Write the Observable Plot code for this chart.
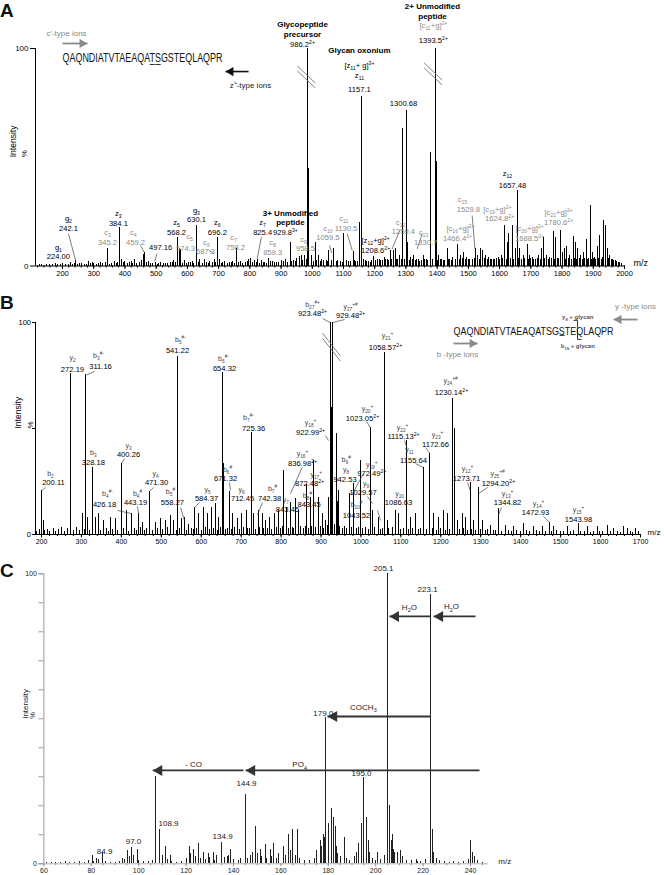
<!DOCTYPE html>
<html><head><meta charset="utf-8">
<script src="https://cdn.jsdelivr.net/npm/d3@7"></script>
<script src="https://cdn.jsdelivr.net/npm/@observablehq/plot@0.6"></script>
<style>
body{margin:0;background:#fff;}
#wrap{position:relative;width:664px;height:875px;overflow:hidden;background:#fff;}
.panel{position:absolute;left:0;}
.panel svg{display:block;}
.letter{position:absolute;font:bold 19px "Liberation Sans",Arial,sans-serif;line-height:1;color:#111;}
</style></head>
<body>
<div id="wrap">
  <div id="pa" class="panel" style="top:0"></div>
  <div id="pb" class="panel" style="top:280px"></div>
  <div id="pc" class="panel" style="top:530px"></div>
  <div class="letter" style="left:0;top:1px">A</div>
  <div class="letter" style="left:0;top:293px">B</div>
  <div class="letter" style="left:0;top:561px">C</div>
</div>
<script>
const FONT = '"Liberation Sans", Arial, "DejaVu Sans", sans-serif';

// ---------------- Panel A data ----------------
const aTicks = [200,300,400,500,600,700,800,900,1000,1100,1200,1300,1400,1500,1600,1700,1800,1900,2000];
const aPeaks = [[224.0,1.5],[242.1,2.5],[262,1],[284,2],[300,1],[322,1.5],[345.2,8],[365,2],[384.1,17.5],[390,3],[400,2],[420,2],[430,3],[445,1.5],[452,2.5],[459.2,5.5],[464,6],[475,2],[497.16,1.5],[515,1.5],[530,1],[545,1.5],[556,2.5],[568.2,13],[574.3,8],[579,7.5],[590,2.5],[602,1.5],[615,2],[630.1,18.6],[640,3],[655,3],[672,2],[687.3,3],[696.2,13],[702,3],[720,2],[735,1.5],[745,2],[758.2,8],[770,2],[785,1.5],[797,3],[802,3.5],[815,2.5],[825.4,3],[838,2.5],[848,1.5],[859.3,3.5],[872,2],[885,1.5],[900,2.5],[914,3],[929.8,11],[940,2.5],[950,3.5],[958.5,4.5],[965,5],[975,5],[986.2,100],[988,45],[998,5],[1010,11],[1020,5],[1030,3],[1045,2.5],[1053,7],[1069,8],[1082,2.5],[1101,14.8],[1115,2],[1130.5,6.5],[1140,2],[1150,20],[1157.1,78],[1165,3],[1175,2],[1185,1.5],[1197,4.5],[1208.6,3],[1220,2.5],[1230,4],[1240,3],[1250,7],[1259.4,7],[1266,8],[1273,3],[1280,5],[1288,63],[1300.68,71.5],[1305,11],[1315,4],[1325,5],[1335,3],[1345,2],[1355,5],[1365,3],[1379,52],[1393.5,100],[1397,48],[1405,5],[1415,3],[1425,2.5],[1432,8],[1440,3],[1450,4],[1466.4,10],[1475,5],[1485,6],[1495,4],[1505,3],[1523,8],[1529.8,5],[1539,8],[1545,7],[1555,5],[1565,4],[1575,3],[1585,3],[1595,4],[1605,5],[1617,18.5],[1624.8,11],[1630,14.8],[1642,18.5],[1650,8],[1657.48,34.6],[1665,8],[1675,5],[1688.5,10],[1695,5],[1705,4],[1715,3],[1725,5],[1733,8],[1740,13],[1750,5],[1760,4],[1772,16],[1780.6,13],[1794,16.5],[1800,6],[1808,8],[1815,9],[1825,5],[1836,13.5],[1843,11],[1850,8],[1860,5],[1870,6],[1877,12],[1891,28],[1898,6],[1905,4],[1912,9],[1920,14],[1934,21],[1940,18.5],[1946,8],[1953,5],[1962,3],[1970,2.5],[1985,1.5]];
const aNoise = [[125,.5],[133,.8],[141,.4],[150,.9],[158,.6],[167,.5],[176,1],[185,.7],[193,.5],[201,1.2],[210,.6],[218,.9],[231,.8],[237,1.1],[249,.7],[255,1.3],[270,.9],[277,.6],[291,1],[296,1.4],[309,.8],[315,1.2],[329,1],[337,1.6],[352,.9],[358,1.3],[372,1],[377,1.5],[395,1.8],[407,1.2],[413,1.6],[425,1.3],[437,1.1],[469,1.4],[481,1],[489,1.2],[503,.9],[509,1.3],[522,1],[537,1.2],[551,1.6],[562,1.4],[585,1.3],[596,1],[609,1.5],[621,1.2],[636,1.4],[647,1.1],[661,1.6],[667,1.2],[679,1.4],[691,1.8],[708,1.3],[714,1.6],[727,1.2],[740,1.5],[751,1.1],[764,1.7],[776,1.3],[791,1.9],[808,1.4],[821,1.6],[832,1.2],[844,1.8],[853,1.3],[866,1.9],[878,1.4],[892,1.7],[907,2],[920,1.6],[935,2.2],[945,1.9],[970,2.4],[981,2.8],[1003,2.2],[1015,2.6],[1025,2],[1037,2.3],[1050,1.9],[1060,2.5],[1076,2],[1090,2.2],[1096,1.8],[1108,2.4],[1122,2.1],[1135,2.6],[1145,2],[1170,2.5],[1180,2.2],[1190,2.7],[1203,2.3],[1214,2.8],[1225,2.5],[1235,3],[1245,2.6],[1255,3.1],[1270,2.8],[1285,3],[1295,3.2],[1310,2.7],[1320,3],[1330,2.5],[1340,2.8],[1350,2.4],[1360,2.9],[1370,2.6],[1385,3],[1402,2.7],[1410,3.1],[1420,2.6],[1436,3],[1445,2.7],[1458,3.2],[1470,2.8],[1480,3.3],[1490,2.9],[1500,3.1],[1512,2.8],[1518,3.4],[1534,3],[1550,3.3],[1560,2.9],[1570,3.2],[1580,2.8],[1590,3.4],[1600,3],[1610,3.5],[1622,3.2],[1636,3.6],[1646,3.1],[1660,3.4],[1670,3],[1680,3.6],[1692,3.2],[1700,3.5],[1710,3],[1720,3.4],[1730,3.1],[1745,3.6],[1755,3.2],[1765,3.5],[1776,3.1],[1786,3.6],[1790,3.3],[1803,3.7],[1812,3.2],[1820,3.5],[1830,3],[1840,3.6],[1847,3.2],[1855,3.4],[1865,3],[1873,3.5],[1882,3.2],[1886,3.6],[1895,3.1],[1902,3.4],[1908,3],[1916,3.5],[1925,3.2],[1930,3.8],[1938,3.3],[1950,3.6],[1958,3],[1966,2.6],[1975,2.2],[1980,1.8],[1990,1.2]];
const aLabelsBold = [["Glycopeptide",968.7,111],["precursor",968.7,106.4],["Glycan oxonium",1151,99],["2+ Unmodified",1385,119.3],["peptide",1385,114.7],["3+ Unmodified",930,24.1],["peptide",930,20]];
const aLabelsBlack = [["986.2^{2+}",968.7,101.8],["[z_{11}+ g]^{3+}",1151,92.2],["z_{11}",1151,87.6],["1157.1",1151,81.1],["1393.5^{2+}",1388,103.7],["1300.68",1292,74.7],["z_{12}",1625,42.5],["1657.48",1641,37],["[z_{12}+g]^{2+}",1203,11.7],["1208.6^{2+}",1203,7.1],["g_{2}",219,21.8],["242.1",219,17.2],["g_{1}",187,8.5],["224.00",187,4.4],["z_{3}",379,24.1],["384.1",379,19.5],["497.16",514,8.5],["z_{5}",565,20],["568.2",565,15.4],["g_{3}",629,25.5],["630.1",629,21.4],["z_{6}",696,20],["696.2",696,15.4],["z_{7}",841,20],["825.4",841,15.4],["929.8^{3+}",914,15.4]];
const aLabelsGrey = [["[c_{11}+g]^{2+}",1388,110.6],["c_{15}",1481,30.6],["1529.8",1500,26],["[c_{19}+g]^{2+}",1593,26],["1624.8^{2+}",1600,21.8],["[c_{22}+g]^{2+}",1789,24.6],["1780.6^{2+}",1789,20],["[c_{20}+g]^{2+}",1696,17.2],["1688.5^{2+}",1696,12.6],["[c_{16}+g]^{2+}",1475,17.2],["1466.4^{2+}",1465,12.6],["c_{11}",1101,21.8],["1130.5",1108,17.2],["c_{12}",1283,20],["1259.4",1292,15.9],["c_{13}",1356,15.4],["1330.7",1363,10.8],["c_{10}",1050,17.2],["1059.5",1050,13.1],["c_{3}",344,15.4],["345.2",344,10.8],["c_{4}",427,15.4],["459.2",434,10.8],["c_{5}",607,13.6],["574.3",594,8],["c_{6}",661,10.8],["687.3",658,6.7],["c_{7}",748,13.1],["758.2",754,8.5],["c_{8}",873,10.8],["859.3",873,6.2],["c_{9}",972,12.2],["958.5",978,8]];
const aLeaders = [[219,14.9,242.1,2.5],[450,9.4,462,6.3],[503,5.7,495,2.1],[669,7.4,685,5.5],[837,13.2,823.5,3.3],[1055,9.4,1062,6],[1112,14.8,1128,7.1],[1280,16.3,1256,7.9],[1352,14.8,1336,7.9],[1512,23.2,1521,7.9]];
const aBreaks = [[981,86.9],[1387,88.3]];
const aSeq = [["QAQNDIATVTAEAQAT\u0332S\u0332GSTEQLAQPR",200,95.4]];
const aIonTypeGrey = [["c'-type ions",212.8,106.9]];
const aIonTypeBlack = [["z^{'•}-type ions",802,83]];
const aArrowGrey = [[200,280,102.3]];   // [from, tip, intensity]
const aArrowBlack = [[796,722,89.4]];

// ---------------- Panel B data ----------------
const bTicks = [200,300,400,500,600,700,800,900,1000,1100,1200,1300,1400,1500,1600,1700];
const bPeaks = [[200.11,20.8],[204,6.6],[272.19,75.8],[302,9.7],[311.16,75.5],[314,8.2],[328.18,31.8],[335,8.2],[342,9.7],[356,6.6],[373,8.2],[385,7.4],[400.26,33.6],[413,11.3],[426.18,9.7],[443.19,9.7],[452,5.8],[471.3,20.4],[485.5,5.8],[498,7.4],[510.5,6.6],[523,9],[531,6.6],[541.22,84],[550.6,7.4],[558.27,8.2],[569,4.9],[584.37,12.9],[594,9.7],[606.5,12.9],[615,9.7],[625,12.9],[635.8,14.5],[644,8.2],[654.32,76.6],[656.5,33.6],[671.32,20.4],[679,9.7],[690,7.4],[700,9.7],[712.45,11.3],[725.36,48.3],[731.7,9.7],[742.38,11.3],[752.7,9.7],[761,6.6],[771.8,8.2],[783.5,9.7],[794.3,11.3],[806.8,30.2],[813.6,12.9],[823.6,15],[836.98,17],[844.4,11.3],[863.6,23.6],[872.48,17.6],[882,34.9],[894.5,17.6],[903,9.7],[911,6.6],[919.5,17.6],[922.99,44.3],[923.48,100],[926,60],[929.48,100],[938.8,47.5],[940.5,15.7],[942.53,20.8],[972.49,19.2],[982,23.9],[999,34.9],[1023.05,50.5],[1029.57,11.3],[1043.52,8.2],[1058.57,86],[1065.7,6.6],[1086.63,11.3],[1094.8,9.7],[1115.13,44.3],[1124,8.2],[1136.6,9.7],[1155.64,31.8],[1172.66,38],[1182.5,9.7],[1195,8.2],[1207.5,11.3],[1216,9.7],[1230.14,64],[1233,50],[1242.6,6.6],[1253.6,9.7],[1261.8,8.2],[1273.71,24.7],[1282.7,6.6],[1294.2,22.3],[1303.7,6.6],[1324.4,4.4],[1344.82,12.1],[1362,4.4],[1383,3.6],[1408,5.2],[1433,3.6],[1454,3.6],[1472.93,5.8],[1483,3.6],[1516.6,3.6],[1543.98,5.2],[1566.6,3.6],[1591.7,3.6],[1616.7,4.4],[1633,2.8],[1658,3.6],[1667,2.8],[1687.6,2.8]];
const bNoise = [[188,1.5],[195,2.2],[208,1.8],[214,2.5],[221,1.2],[229,2.8],[236,1.6],[243,2.2],[250,3.2],[257,1.4],[264,2.6],[280,2],[287,3.4],[294,1.8],[307,2.4],[320,1.7],[327,2.9],[348,2.1],[362,3],[368,1.6],[379,2.5],[391,1.9],[406,2.7],[419,1.5],[432,2.8],[438,1.7],[447,3.1],[458,2],[464,2.6],[477,1.8],[491,2.9],[504,2.2],[516,3.3],[537,2],[545,2.7],[562,1.9],[575,3],[580,2.3],[589,2.8],[600,2],[611,3.2],[620,2.4],[630,2.9],[640,2.1],[649,3.4],[661,2.5],[666,3],[675,2.2],[684,3.1],[695,2.4],[705,3.3],[717,2.6],[721,3],[735,2.3],[747,3.5],[757,2.6],[766,3],[777,2.4],[788,3.4],[799,2.7],[803,3.8],[818,2.9],[828,3.5],[832,2.6],[849,3.9],[856,3],[860,3.6],[868,2.8],[877,4],[887,3.2],[898,3.8],[907,3],[915,4.2],[933,4.5],[946,3.6],[953,3],[958,4],[965,2.8],[977,3.5],[988,2.6],[994,3.2],[1005,2.7],[1012,3.4],[1018,2.5],[1035,3.1],[1049,2.4],[1053,3],[1070,2.6],[1078,3.2],[1100,2.5],[1107,3],[1120,2.4],[1130,2.9],[1143,2.2],[1150,2.8],[1163,2.3],[1178,2.7],[1188,2.1],[1200,2.6],[1211,2],[1222,2.5],[1248,2.2],[1257,2.7],[1267,2],[1278,2.4],[1288,1.9],[1300,2.3],[1312,1.8],[1318,2.2],[1332,1.7],[1338,2.1],[1352,1.6],[1370,2],[1377,1.5],[1390,1.9],[1400,1.4],[1415,1.8],[1423,1.3],[1440,1.7],[1448,1.2],[1461,1.6],[1478,1.3],[1490,1.7],[1500,1.2],[1508,1.6],[1524,1.3],[1533,1.7],[1551,1.2],[1559,1.6],[1574,1.1],[1583,1.5],[1598,1.2],[1606,1.6],[1625,1.3],[1642,1.5],[1650,1.1],[1675,1.4],[1680,1],[1694,1.2]];
const bIonLabels = [["y_{2}",277.6,83.5],["b_{3}^{#-}",342.7,84.4],["b_{2}",222.5,28.8],["b_{3}",330,38.7],["y_{3}",417.9,42],["y_{4}",485.5,28.8],["b_{4}^{#-}",365.3,19.3],["b_{4}^{#}",440.4,19.3],["b_{5}^{#}",523,20.3],["b_{5}^{#-}",548,92],["y_{5}",615.7,21.2],["b_{6}^{#-}",655.8,83],["b_{6}^{#}",665.8,30.7],["y_{6}",700.9,21.2],["b_{7}^{#-}",718.4,55.2],["b_{7}^{#}",778.5,21.7],["y_{7}",812,16.5],["b_{8}^{#}",866,18.2],["y_{16}^{+}",853.6,38.2],["y_{17}^{+}",888,28.3],["y_{18}^{+}",873.7,52.8],["b_{27}^{#+}",878.7,108.5],["y_{27}^{+#}",973.9,107.5],["y_{21}^{+}",1066.5,93.9],["y_{24}^{+#}",1224.3,72.6],["y_{20}^{+}",1016.4,59.4],["y_{22}^{+}",1104.1,50.5],["y_{23}^{+}",1191.7,47.2],["y_{11}",1121.6,40],["b_{9}^{#}",963,35.3],["y_{8}",963,30.4],["y_{19}^{+}",1027,32.8],["y_{9}",1013,24],["b_{10}^{#}",989,14],["y_{10}",1096.6,19.3],["y_{12}^{+}",1266.9,31.1],["y_{25}^{+#}",1342,28.8],["y_{13}^{+}",1367,19.3],["y_{14}^{+}",1444.7,14.6],["y_{15}^{+}",1544.9,11.8]];
const bValueLabels = [["272.19",277.6,77.8],["311.16",347.8,79.2],["200.11",230,24.5],["328.18",330,34],["400.26",417.9,37.7],["471.30",488,24.5],["426.18",357.8,14.2],["443.19",435.4,15.1],["558.27",528,15.1],["541.22",540.6,86.8],["584.37",613.2,17],["654.32",658.3,78.3],["671.32",660.8,26.4],["712.45",703.4,17],["725.36",731,50],["742.38",771,17],["843.45",816,11.8],["843.45",870,14.2],["836.98^{2+}",853.6,33.5],["872.48^{2+}",871.2,23.8],["922.99^{2+}",873.7,48.1],["923.48^{2+}",878.7,104.2],["929.48^{2+}",973.9,103.3],["1058.57^{2+}",1061.5,88.2],["1230.14^{2+}",1226.8,67],["1023.05^{2+}",1003.9,54.7],["1115.13^{2+}",1106.6,46.2],["1172.66",1186.7,42.5],["1155.64",1131.6,35],["942.53",960,25.8],["972.49^{2+}",1027,28.8],["1029.57",1005,19.8],["1043.52",989,9],["1086.63",1094.1,15.1],["1273.71",1264.4,26.4],["1294.20^{2+}",1344.5,24],["1344.82",1367,15.1],["1472.93",1437.2,10.4],["1543.98",1544.9,7.1]];
const bLeaders = [[210,22.2,201.3,20.8],[332.7,76.9,312.7,75.2],[407.9,35.8,400.4,33.5],[390.3,11.3,425.4,9.9],[440.4,13.2,442.9,9.9],[480.5,22.2,470.5,20.3],[548,12.7,558,6.6],[595.7,15.1,583.2,12.7],[670.8,24.5,673.3,20.8],[753.5,15.1,741,9.4],[852.9,31.7,823.6,19.3],[911,46.7,918.8,44.3],[903.7,101.9,922.5,100],[958.8,101.4,930,100],[1014,53.3,1023,50.5],[1109,44.3,1115,41],[1161.7,41,1172.5,38.2],[1136.6,33.5,1155.6,31.6],[1006.4,28.8,978.9,19.3],[1016.4,17.9,1029,14.6],[1041.5,11.3,1049,6.6],[1266.8,24.5,1273.6,20.8],[1317,22.2,1294.4,19.3],[1352,12.7,1344.5,9.4],[1457,8.5,1472.3,5.7]];
const bBreaks = [[926,88.4]];
const bSeq = [["QAQNDIATVTAEAQATSGS\u0332TEQLAQPR",1231.8,95.8]];
const bGlycan = [["y_{8} + glycan",1543,102.6],["b_{19} + glycan",1543,89]];
const bCleavage = [[1542.3,101,92]];   // [m/z of cleavage, top, bottom]
const bIonType = [["y -type ions",1687.6,107.5],["b -type ions",1241.8,84.9]];
const bArrowLeft = [[1692.6,1632.5,101.4]];
const bArrowRight = [[1231.8,1291.9,90.1]];

// ---------------- Panel C data ----------------
const cTicks = [60,80,100,120,140,160,180,200,220,240];
const cPeaks = [[84.9,4],[97.0,5.5],[106.9,30],[108.9,12],[134.9,7.3],[144.9,24],[179.0,50.3],[195.0,29.7],[205.1,100],[223.1,93],[80.5,3],[82.2,2],[93.3,2],[95.4,4.5],[99.5,5],[111.2,6],[113.3,3],[121.4,6],[123.3,5],[125.4,7],[127.2,4],[129.3,3.5],[131.4,4],[137.3,2.5],[138.7,5],[149.4,13],[151.2,5],[153.3,6.5],[155.4,5],[157,7],[161.2,6],[163,10],[165,12],[167.1,12],[176.5,8],[178,10],[180.1,14],[181.2,19],[182.2,16],[182.9,13],[186.9,9],[192.8,7],[193.8,14],[195.9,16],[196.9,8],[200.7,4],[205.9,20],[207,10],[208.1,4],[209.3,4],[210.5,4.5],[217,1.5],[223.8,12],[224.5,4],[240,8],[240.7,4]];
const cNoise = [[61,.4],[63,.6],[65,.3],[67,.5],[69,.7],[71,.4],[73,.6],[75,.8],[77,.5],[79,1.2],[81,.9],[83,1.4],[86,.8],[88,.5],[90,.6],[92,.9],[94,1.5],[96,2.5],[98,3],[100,1],[102,.7],[104,.9],[106,1.3],[110,3],[112,1.5],[114,.8],[116,.6],[118,.9],[120,2],[122,3.5],[124,2.5],[126,2],[128,1.5],[130,2.2],[132,1.2],[133,2.8],[136,2.2],[138,3],[140,1.5],[142,1.2],[143,2],[146,1.8],[147,3],[148,4],[150,3.5],[152,2.5],[154,2],[156,2.5],[158,1.8],[159,3.5],[162,3],[164,4.5],[166,3],[168,2],[170,1.2],[172,1],[174,1.8],[175,4.5],[177,6],[178.5,9],[183.5,6],[184,3.5],[185,2.5],[187.5,2],[189,1.2],[191,2.5],[192,4],[197.5,4],[198.5,2],[200,1.2],[202,1.5],[203.5,3],[206.5,8],[207.5,5],[211.5,2.5],[213,1.2],[215,1],[217.5,.8],[219,.9],[221,1.5],[225.5,2],[227,1],[229,.8],[231,.6],[233,.9],[235,.5],[237,.7],[239,1.5],[241.5,2.5],[243,1.2],[245,.6]];
const cLabels = [["205.1",203.3,101.8],["223.1",221.9,94.6],["H_{2}O",214.2,88.4],["H_{2}O",232,88.7],["COCH_{3}",194.8,53.9],["179.0",177.9,51.8],["- CO",123.1,34.2],["PO_{4}",167.9,34.2],["144.9",145.5,27.7],["108.9",112.6,13.9],["134.9",135.4,9.4],["97.0",97.8,7.7],["84.9",85.6,4.2],["195.0",194,31.1]];
const cArrows = [[242.1,224.4,85.3],[223.1,205.8,85.3],[223.1,179.7,50.8],[243.8,145.1,32.2],[144.2,105.9,32.2]];

// ---------------- helpers ----------------
const X = d => d[0], Y = d => d[1];
function peakRules(data, opts = {}) {
  return Plot.ruleX(data, {x: X, y1: 0, y2: Y, stroke: "#000", strokeWidth: 1, shapeRendering: "crispEdges", ...opts});
}
function labels(data, opts) {
  return Plot.text(data, {x: d => d[1], y: d => d[2], text: d => d[0], ...opts});
}
function arrows(arr, dir, color, r, width) {
  const off = 1.555 * r;
  return [
    Plot.link(arr, {x1: d => d[0], x2: d => d[1], y1: d => d[2], y2: d => d[2], stroke: color, strokeWidth: width}),
    Plot.dot(arr, {x: d => d[1], y: d => d[2], symbol: "triangle", r, fill: color, stroke: "none",
      rotate: dir > 0 ? 90 : -90, dx: dir > 0 ? -off : off})
  ];
}
function breaks(arr, dm, di, sep) {
  const segs = arr.flatMap(([m, i]) => [-sep, sep].map(o => ({x1: m - dm, y1: i + di + o, x2: m + dm, y2: i - di + o})));
  return Plot.link(segs, {x1: "x1", y1: "y1", x2: "x2", y2: "y2", stroke: "#666", strokeWidth: 0.8});
}
function leaders(arr, color) {
  return Plot.link(arr, {x1: d => d[0], y1: d => d[1], x2: d => d[2], y2: d => d[3], stroke: color, strokeWidth: 0.7});
}
const style = {background: "transparent", overflow: "visible", fontFamily: FONT, fontSize: "8px", color: "#000"};
const fmt = d => String(d);

// ---------------- Panel A ----------------
const plotA = Plot.plot({
  width: 664, height: 290, marginLeft: 35, marginRight: 40, marginTop: 48, marginBottom: 24.5,
  x: {domain: [113.5, 2000], range: [35, 624], label: null},
  y: {domain: [0, 100], range: [265.5, 48], label: null},
  style,
  marks: [
    peakRules(aNoise),
    peakRules(aPeaks),
    Plot.ruleY([0], {stroke: "#000"}),
    Plot.ruleX([113.5], {y1: 0, y2: 100, stroke: "#000"}),
    Plot.axisX(d3.range(120, 2001, 20), {tickSize: 2, tickFormat: () => ""}),
    Plot.axisX(aTicks, {tickSize: 3.5, tickPadding: 1, fontSize: 7.5, tickFormat: fmt}),
    Plot.axisY([0, 100], {tickSize: 5, tickPadding: 2, fontSize: 8, tickFormat: fmt}),
    Plot.text(["Intensity"], {frameAnchor: "left", dx: -22, rotate: -90, fontSize: 8.5}),
    Plot.text(["%"], {frameAnchor: "left", dx: -11, rotate: -90, fontSize: 8}),
    Plot.text(["m/z"], {frameAnchor: "bottom-right", dx: 9, textAnchor: "start", fontSize: 9}),
    breaks(aBreaks, 28.8, 3.9, 1.15),
    leaders(aLeaders, "#444"),
    labels(aLabelsBold, {fontSize: 8, fontWeight: "bold", fill: "#000"}),
    labels(aLabelsBlack, {fontSize: 7.6, fill: "#000"}),
    labels(aLabelsGrey, {fontSize: 7.6, fill: "#8a8a8a"}),
    labels(aSeq, {fontSize: 12, textAnchor: "start", fill: "#111"}),
    labels(aIonTypeGrey, {fontSize: 8, fill: "#8a8a8a"}),
    labels(aIonTypeBlack, {fontSize: 8, fill: "#222"}),
    ...arrows(aArrowGrey, 1, "#8a8a8a", 3.4, 1.8),
    ...arrows(aArrowBlack, -1, "#111", 3.4, 1.6)
  ]
});

// ---------------- Panel B ----------------
const plotB = Plot.plot({
  width: 664, height: 275, marginLeft: 35, marginRight: 24, marginTop: 42, marginBottom: 21,
  x: {domain: [185, 1700], range: [35, 640], label: null},
  y: {domain: [0, 100], range: [254, 42], label: null},
  style,
  marks: [
    peakRules(bNoise),
    peakRules(bPeaks),
    Plot.ruleY([0], {stroke: "#000"}),
    Plot.ruleX([185], {y1: 0, y2: 100, stroke: "#000"}),
    Plot.axisX(d3.range(200, 1701, 20), {tickSize: 2, tickFormat: () => ""}),
    Plot.axisX(bTicks, {tickSize: 3.5, tickPadding: 1, fontSize: 7, tickFormat: fmt}),
    Plot.axisY([0, 50, 100], {tickSize: 3, tickPadding: 1.5, fontSize: 7.5, tickFormat: d => d === 50 ? "" : String(d)}),
    Plot.text(["Intensity"], {frameAnchor: "left", dx: -17, rotate: -90, fontSize: 8.5}),
    Plot.text(["%"], {frameAnchor: "left", dx: -5, rotate: -90, fontSize: 8}),
    Plot.text(["m/z"], {frameAnchor: "bottom-right", dx: 7, textAnchor: "start", fontSize: 8}),
    breaks(bBreaks, 22.5, 5.4, 1.2),
    leaders(bLeaders, "#444"),
    labels(bIonLabels, {fontSize: 7, fill: "#444"}),
    labels(bValueLabels, {fontSize: 7.6, fill: "#000"}),
    labels(bSeq, {fontSize: 11.5, textAnchor: "start", fill: "#111"}),
    labels(bGlycan, {fontSize: 6, fontWeight: "bold", fill: "#555"}),
    Plot.link(bCleavage, {x1: d => d[0], x2: d => d[0], y1: d => d[1], y2: d => d[2], stroke: "#222", strokeWidth: 0.9}),
    Plot.link(bCleavage, {x1: d => d[0] - 10, x2: d => d[0], y1: d => d[1], y2: d => d[1], stroke: "#222", strokeWidth: 0.9}),
    Plot.link(bCleavage, {x1: d => d[0], x2: d => d[0] + 10, y1: d => d[2], y2: d => d[2], stroke: "#222", strokeWidth: 0.9}),
    labels(bIonType, {fontSize: 8, fill: "#8a8a8a"}),
    ...arrows(bArrowLeft, -1, "#8a8a8a", 3.4, 1.8),
    ...arrows(bArrowRight, 1, "#8a8a8a", 3.4, 1.8)
  ]
});

// ---------------- Panel C ----------------
const plotC = Plot.plot({
  width: 664, height: 345, marginLeft: 43.4, marginRight: 176.2, marginTop: 43.3, marginBottom: 11.7,
  x: {domain: [60, 247.5], range: [43.4, 487.8], label: null},
  y: {domain: [0, 100], range: [333.3, 43.3], label: null},
  style,
  marks: [
    Plot.ruleY([0], {stroke: "#999", strokeWidth: 0.8}),
    peakRules(cNoise, {stroke: "#222"}),
    peakRules(cPeaks, {stroke: "#222"}),
    Plot.ruleX([60], {y1: 0, y2: 100, stroke: "#999"}),
    Plot.axisX(d3.range(60, 247, 5), {tickSize: 2, stroke: "#999", tickFormat: () => ""}),
    Plot.axisX(cTicks, {tickSize: 3, tickPadding: 1, fontSize: 7, stroke: "#999", fill: "#222", tickFormat: fmt}),
    Plot.axisY(d3.range(0, 101, 10), {tickSize: 5, stroke: "#999", tickFormat: () => ""}),
    Plot.axisY([0, 100], {tickSize: 5, tickPadding: 2, fontSize: 7, stroke: "#999", fill: "#222", tickFormat: fmt}),
    Plot.text(["Intensity"], {frameAnchor: "left", dx: -18, rotate: -90, fontSize: 8, fill: "#222"}),
    Plot.text(["%"], {frameAnchor: "left", dx: -11, rotate: -90, fontSize: 7.5, fill: "#222"}),
    Plot.text(["m/z"], {frameAnchor: "bottom-right", dx: 10, textAnchor: "start", fontSize: 8, fill: "#222"}),
    ...arrows(cArrows, -1, "#333", 4.1, 1.8),
    labels(cLabels, {fontSize: 8, fill: "#222"})
  ]
});

document.getElementById("pa").appendChild(plotA);
document.getElementById("pb").appendChild(plotB);
document.getElementById("pc").appendChild(plotC);

// rich text: _{sub}  ^{sup}
function richify(svg) {
  const NS = "http://www.w3.org/2000/svg";
  svg.querySelectorAll("text").forEach(t => {
    const s = t.textContent;
    if (!/[_^]\{/.test(s)) return;
    const parts = [];
    let i = 0, buf = "";
    while (i < s.length) {
      const c = s[i];
      if ((c === "_" || c === "^") && s[i + 1] === "{") {
        if (buf) parts.push({k: "n", t: buf});
        buf = "";
        const j = s.indexOf("}", i + 2);
        parts.push({k: c, t: s.slice(i + 2, j)});
        i = j + 1;
      } else { buf += c; i++; }
    }
    if (buf) parts.push({k: "n", t: buf});
    const size = parseFloat(getComputedStyle(t).fontSize) || 8;
    while (t.firstChild) t.removeChild(t.firstChild);
    let off = 0;
    for (const p of parts) {
      const ts = document.createElementNS(NS, "tspan");
      let target = 0;
      if (p.k === "_") { target = size * 0.3; ts.setAttribute("font-size", (size * 0.68).toFixed(2)); }
      else if (p.k === "^") { target = -size * 0.42; ts.setAttribute("font-size", (size * 0.68).toFixed(2)); }
      if (target - off !== 0) ts.setAttribute("dy", (target - off).toFixed(2));
      off = target;
      ts.textContent = p.t;
      t.appendChild(ts);
    }
  });
}
[plotA, plotB, plotC].forEach(richify);
// condensed peptide sequence
[plotA, plotB].forEach(svg => svg.querySelectorAll("text").forEach(t => {
  if (t.textContent.startsWith("QAQNDIAT")) {
    t.setAttribute("textLength", "160");
    t.setAttribute("lengthAdjust", "spacingAndGlyphs");
  }
}));
</script>
</body></html>
